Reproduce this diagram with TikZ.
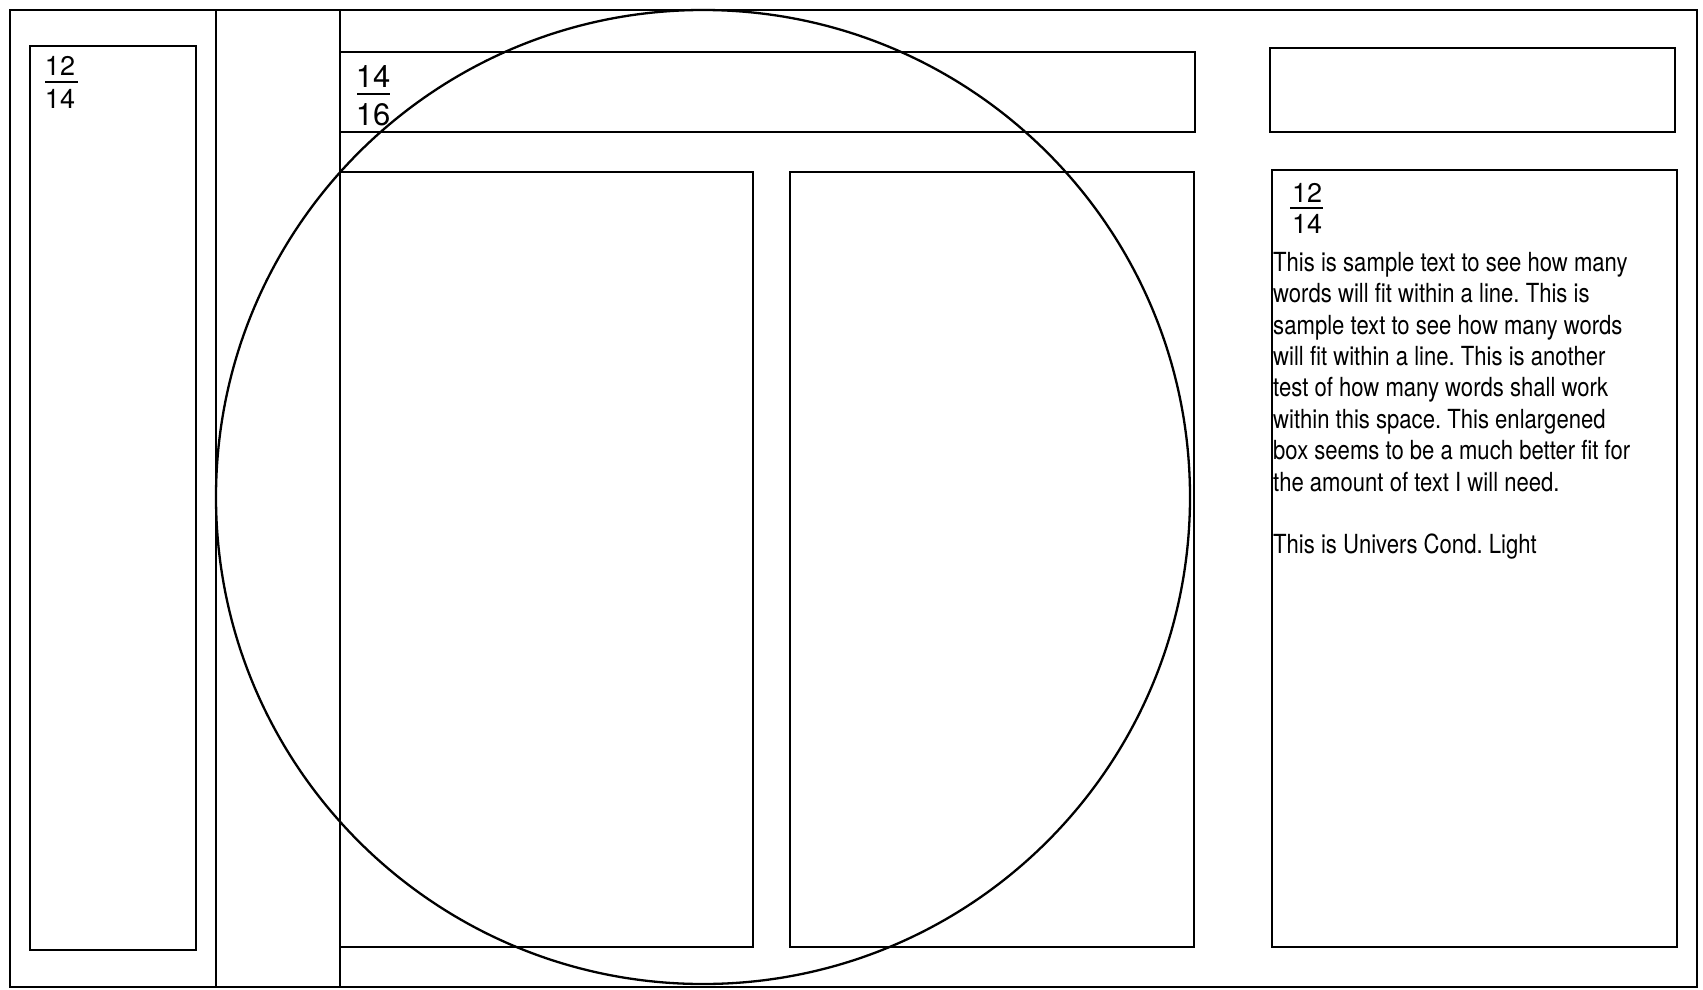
\documentclass[tikz,border=0pt]{standalone}
\usepackage{fontspec}
\setmainfont{TeX Gyre Heros}
\newfontfamily\condfont[FakeStretch=0.84]{TeX Gyre Heros}
\frenchspacing
\begin{document}
\begin{tikzpicture}[x=1pt,y=-1pt,
  frame/.style={draw,line width=2.3pt},
  boxline/.style={draw,line width=2.3pt},
  fracbar/.style={draw,line width=1.6pt},
  fracsmall/.style={anchor=base,inner sep=0pt,font=\fontsize{27}{30}\selectfont},
  fracbig/.style={anchor=base,inner sep=0pt,font=\fontsize{31}{34}\selectfont},
  body/.style={anchor=north west,inner sep=0pt,align=left,font=\condfont\fontsize{26.3}{31.4}\selectfont}]
\useasboundingbox (0,0) rectangle (1703,990);
% outer frame and columns
\draw[frame] (10,10) rectangle (1697,987);
\draw[boxline] (216,10) -- (216,987);
\draw[boxline] (340,10) -- (340,987);
% left box
\draw[boxline] (30,46) rectangle (196,950);
% top bar
\draw[boxline] (340,52) rectangle (1195,132);
% two columns
\draw[boxline] (340,172) rectangle (753,947);
\draw[boxline] (790,172) rectangle (1194,947);
% right boxes
\draw[boxline] (1270,48) rectangle (1675,132);
\draw[boxline] (1272,170) rectangle (1677,947);
% circle
\draw[line width=2.3pt] (703,497) circle[radius=487pt];
% fractions
\node[fracsmall] (f1n) at (60,76) {12};
\draw[fracbar] (45,82) -- (78,82);
\node[fracsmall] (f1d) at (60,108) {14};
\node[fracbig] (f2n) at (373,88) {14};
\draw[fracbar] (357,94) -- (390,94);
\node[fracbig] (f2d) at (373,125) {16};
\node[fracsmall] (f3n) at (1307,202) {12};
\draw[fracbar] (1290,208) -- (1323,208);
\node[fracsmall] (f3d) at (1307,233) {14};
% body text
\node[body] (txt) at (1273,252) {This is sample text to see how many\\
words will fit within a line. This is\\
sample text to see how many words\\
will fit within a line. This is another\\
test of how many words shall work\\
within this space. This enlargened\\
box seems to be a much better fit for\\
the amount of text I will need.\\[31.4pt]
This is Univers Cond. Light};
\end{tikzpicture}
\end{document}
